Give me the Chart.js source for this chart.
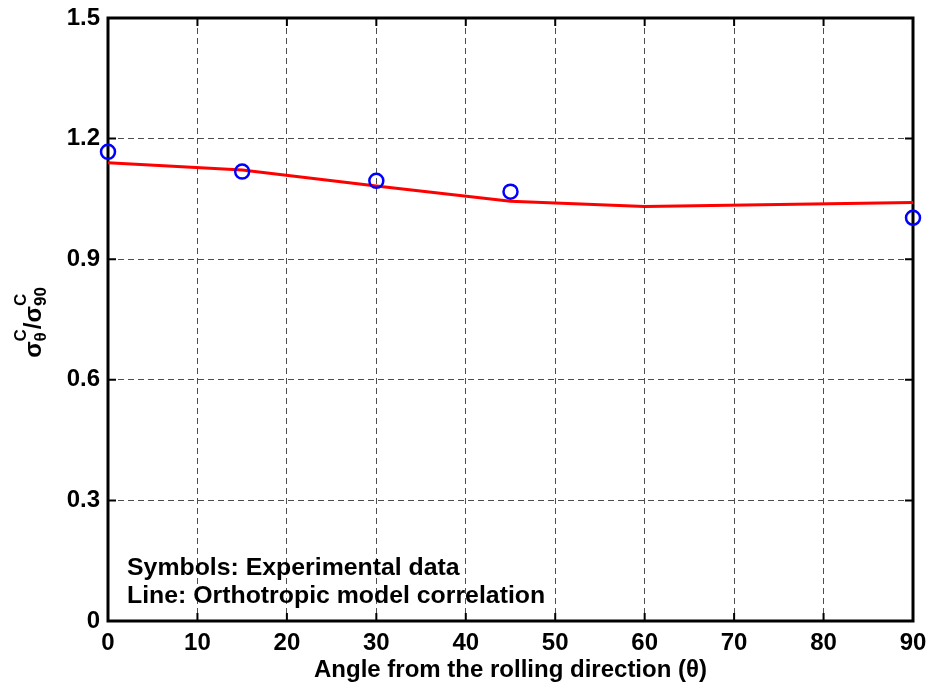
<!DOCTYPE html>
<html>
<head>
<meta charset="utf-8">
<script src="https://cdn.jsdelivr.net/npm/chart.js@4/dist/chart.umd.min.js"></script>
<style>
  html, body { margin: 0; padding: 0; background: #fff; }
  canvas { display: block; }
</style>
</head>
<body>
<canvas id="chart" width="932" height="688"></canvas>
<script>
// Measured compressive yield stress ratio vs. loading angle
const testAngles = [0, 15, 30, 45, 90];
const testRatio = [1.167, 1.118, 1.095, 1.068, 1.003];

// Orthotropic model prediction
const modelAngles = [0, 15, 30, 45, 60, 90];
const modelRatio = [1.140, 1.122, 1.082, 1.044, 1.031, 1.041];

// Axis ticks
const xTickValues = [0, 10, 20, 30, 40, 50, 60, 70, 80, 90];
const yTickValues = [0, 0.3, 0.6, 0.9, 1.2, 1.5];

const xTitle = 'Angle from the rolling direction (\u03B8)';
const noteLines = ['Symbols: Experimental data', 'Line: Orthotropic model correlation'];

const FONT = "'Liberation Sans', Arial, Helvetica, sans-serif";
const TEXT_SIZE = 24;

const toPoints = (xs, ys) => xs.map((x, i) => ({ x: x, y: ys[i] }));

// Box frame with inward tick marks on all four sides
const framePlugin = {
  id: 'frame',
  beforeDatasetsDraw(chart) {
    const { ctx, chartArea: a, scales: { x, y } } = chart;
    const len = 8;
    ctx.save();
    ctx.strokeStyle = '#000';
    ctx.lineWidth = 2;
    ctx.beginPath();
    xTickValues.forEach(v => {
      const px = x.getPixelForValue(v);
      ctx.moveTo(px, a.bottom); ctx.lineTo(px, a.bottom - len);
      ctx.moveTo(px, a.top); ctx.lineTo(px, a.top + len);
    });
    yTickValues.forEach(v => {
      const py = y.getPixelForValue(v);
      ctx.moveTo(a.left, py); ctx.lineTo(a.left + len, py);
      ctx.moveTo(a.right, py); ctx.lineTo(a.right - len, py);
    });
    ctx.stroke();
    ctx.lineWidth = 3;
    ctx.strokeRect(a.left, a.top, a.right - a.left, a.bottom - a.top);
    ctx.restore();
  }
};

// Rotated y-axis label: sigma^C_theta / sigma^C_90
const yTitlePlugin = {
  id: 'yTitle',
  afterDraw(chart) {
    const { ctx, chartArea: a } = chart;
    const big = 'bold 24px ' + FONT;
    const small = 'bold 17px ' + FONT;
    const parts = [
      { main: '\u03C3', sub: '\u03B8', sup: 'C' },
      { slash: '/' },
      { main: '\u03C3', sub: '90', sup: 'C' }
    ];
    let total = 0;
    const widths = parts.map(p => {
      if (p.slash) { ctx.font = big; return ctx.measureText(p.slash).width; }
      ctx.font = big; const wm = ctx.measureText(p.main).width;
      ctx.font = small;
      const ws = Math.max(ctx.measureText(p.sub).width, ctx.measureText(p.sup).width);
      return wm + ws;
    });
    widths.forEach(w => total += w);
    ctx.save();
    ctx.translate(41, (a.top + a.bottom) / 2 + 3);
    ctx.rotate(-Math.PI / 2);
    ctx.fillStyle = '#000';
    ctx.textBaseline = 'alphabetic';
    ctx.textAlign = 'left';
    let cx = -total / 2;
    parts.forEach((p, i) => {
      if (p.slash) {
        ctx.font = big;
        ctx.fillText(p.slash, cx, 0);
      } else {
        ctx.font = big;
        ctx.fillText(p.main, cx, 0);
        const wm = ctx.measureText(p.main).width;
        ctx.font = small;
        ctx.fillText(p.sub, cx + wm, 5);
        ctx.fillText(p.sup, cx + wm, -15);
      }
      cx += widths[i];
    });
    ctx.restore();
  }
};

// Two-line note in the lower-left corner of the plot
const notePlugin = {
  id: 'note',
  afterDraw(chart) {
    const { ctx, chartArea: a } = chart;
    ctx.save();
    ctx.font = 'bold ' + TEXT_SIZE + 'px ' + FONT;
    ctx.fillStyle = '#000';
    ctx.textAlign = 'left';
    ctx.textBaseline = 'alphabetic';
    ctx.translate(a.left + 19, 0);
    ctx.scale(1.035, 1);
    ctx.fillText(noteLines[0], 0, a.bottom - 46);
    ctx.fillText(noteLines[1], 0, a.bottom - 18);
    ctx.restore();
  }
};

new Chart(document.getElementById('chart'), {
  type: 'scatter',
  data: {
    datasets: [
      {
        label: 'Model',
        data: toPoints(modelAngles, modelRatio),
        showLine: true,
        borderColor: '#ff0000',
        borderWidth: 3,
        pointRadius: 0,
        tension: 0,
        clip: false,
        order: 2
      },
      {
        label: 'Experiment',
        data: toPoints(testAngles, testRatio),
        showLine: false,
        borderColor: '#0000ff',
        backgroundColor: 'rgba(0,0,0,0)',
        borderWidth: 2.5,
        pointRadius: 7,
        pointStyle: 'circle',
        clip: false,
        order: 1
      }
    ]
  },
  options: {
    responsive: false,
    devicePixelRatio: 1,
    animation: false,
    layout: { padding: { top: 18, right: 19, left: 0, bottom: 0 } },
    plugins: {
      legend: { display: false },
      tooltip: { enabled: false }
    },
    scales: {
      x: {
        type: 'linear',
        min: 0, max: 90,
        afterFit(s) { s.height = 67; s.paddingLeft = 0; s.paddingRight = 0; },
        afterBuildTicks(s) { s.ticks = xTickValues.map(v => ({ value: v })); },
        grid: { color: '#4d4d4d', lineWidth: 1, drawTicks: false },
        border: { display: false, dash: [6, 4] },
        ticks: {
          autoSkip: false, maxRotation: 0, padding: 8,
          color: '#000',
          font: { family: FONT, size: TEXT_SIZE, weight: 'bold' },
          callback: v => String(v)
        },
        title: {
          display: true,
          text: xTitle,
          color: '#000',
          font: { family: FONT, size: TEXT_SIZE, weight: 'bold' },
          padding: { top: 0, bottom: 3 }
        }
      },
      y: {
        type: 'linear',
        min: 0, max: 1.5,
        afterFit(s) { s.width = 108; s.paddingTop = 0; s.paddingBottom = 0; },
        afterBuildTicks(s) { s.ticks = yTickValues.map(v => ({ value: v })); },
        grid: { color: '#4d4d4d', lineWidth: 1, drawTicks: false },
        border: { display: false, dash: [6, 4] },
        ticks: {
          autoSkip: false, padding: 8,
          color: '#000',
          font: { family: FONT, size: TEXT_SIZE, weight: 'bold' },
          callback: v => (v === 0 ? '0' : Number(v).toFixed(1))
        },
        title: { display: false }
      }
    }
  },
  plugins: [framePlugin, yTitlePlugin, notePlugin]
});
</script>
</body>
</html>
